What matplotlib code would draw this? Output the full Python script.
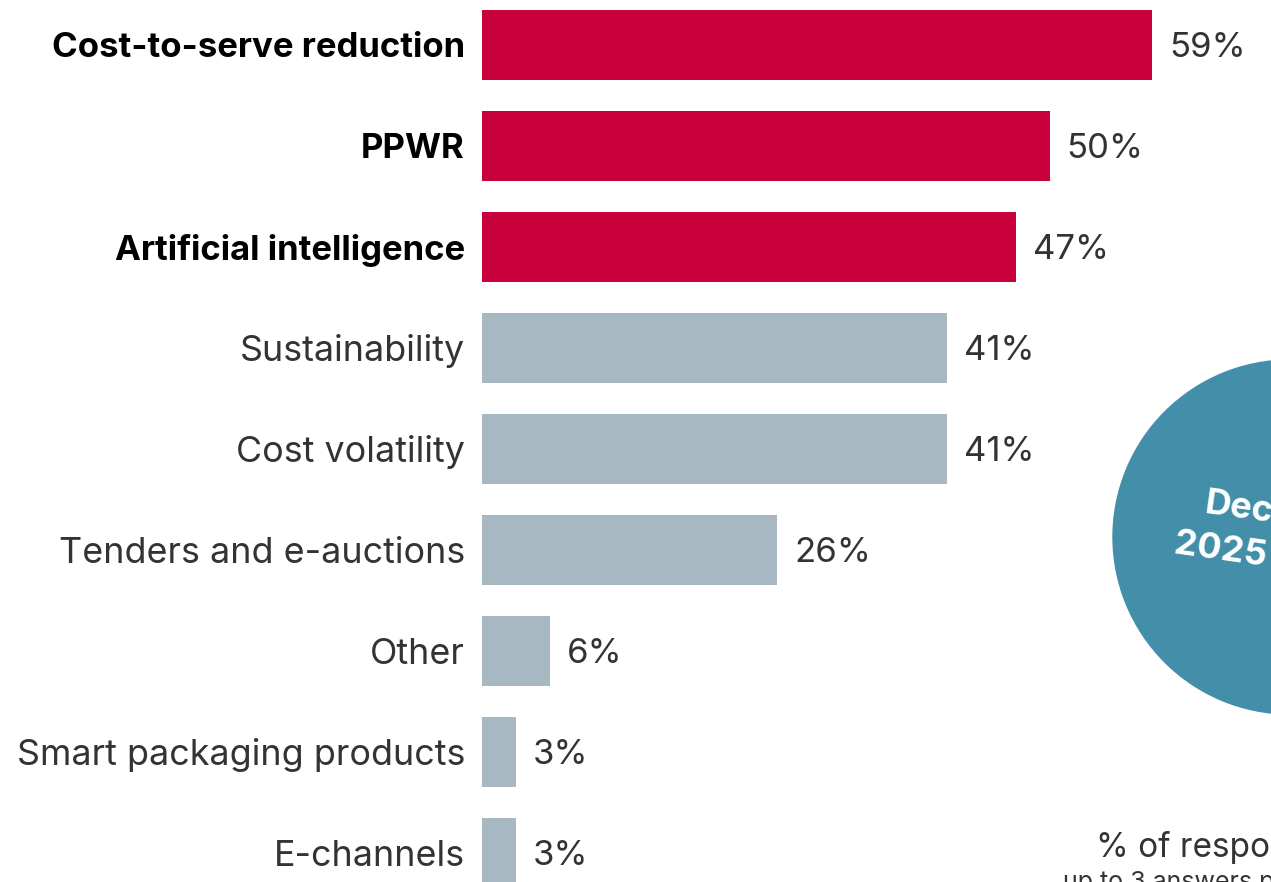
import matplotlib.pyplot as plt
from matplotlib.patches import Circle

plt.rcParams['font.family'] = ['Inter', 'DejaVu Sans']

# DATA
topics = ['Cost-to-serve reduction', 'PPWR', 'Artificial intelligence',
          'Sustainability', 'Cost volatility', 'Tenders and e-auctions',
          'Other', 'Smart packaging products', 'E-channels']
shares = [59, 50, 47, 41, 41, 26, 6, 3, 3]
highlight = [True, True, True, False, False, False, False, False, False]

RED = '#C8003C'
GREY = '#A8B8C3'
TEAL = '#438FAA'
TEXT = '#333333'

fig = plt.figure(figsize=(12.71, 8.82), dpi=100)

# circle badge sitting behind the bars (partly off the canvas)
bg = fig.add_axes([0, 0, 1, 1])
bg.set_xlim(0, 1271)
bg.set_ylim(882, 0)
bg.axis('off')
bg.add_patch(Circle((1290, 537), 177, color=TEAL, zorder=0))
bg.text(1204, 513, 'December', color='white', fontsize=26,
        fontweight='bold', ha='left', va='baseline', rotation=-8,
        rotation_mode='anchor', clip_on=True)
bg.text(1173, 553, '2025 survey', color='white', fontsize=26,
        fontweight='bold', ha='left', va='baseline', rotation=-8,
        rotation_mode='anchor', clip_on=True)
bg.text(1096, 857, '% of respondents', color=TEXT, fontsize=24,
        ha='left', va='baseline', clip_on=True)
bg.text(1063, 889, 'up to 3 answers possible', color=TEXT, fontsize=18,
        ha='left', va='baseline', clip_on=True)

ax = fig.add_axes([482 / 1271, 0, 1 - 482 / 1271, 1])
ax.patch.set_alpha(0)
y = list(range(len(topics)))
colors = [RED if h else GREY for h in highlight]
ax.barh(y, shares, height=0.69, color=colors, zorder=2)
ax.set_xlim(0, 69.5)
ax.set_ylim(8.287, -0.4455)
ax.axis('off')

for i, (t, v, h) in enumerate(zip(topics, shares, highlight)):
    ax.text(-1.5, i + 0.03, t, ha='right', va='center',
            fontsize=25.0 if h else 25.8,
            color='black' if h else TEXT,
            fontweight='bold' if h else 'normal', clip_on=False)
    ax.text(v + 1.5, i + 0.03, f'{v}%', ha='left', va='center', fontsize=25,
            color=TEXT)

fig.savefig('out.png', dpi=100)
